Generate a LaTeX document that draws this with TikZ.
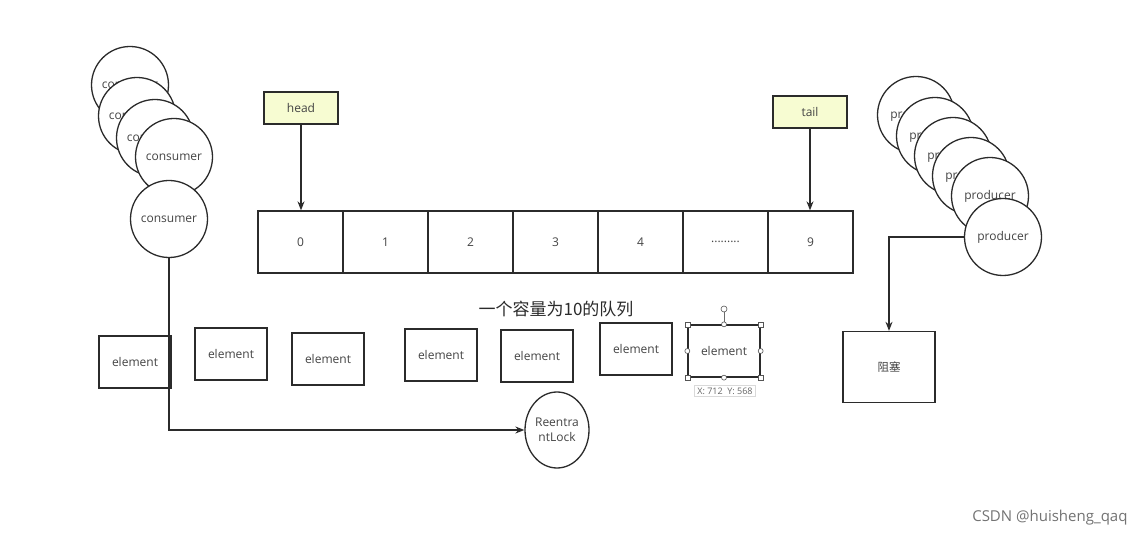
\documentclass[tikz,border=0pt]{standalone}
\usepackage{fontspec}
\setmainfont{Open Sans}
\newfontfamily\cjk{Noto Sans CJK SC}
\usetikzlibrary{arrows.meta,shapes.geometric}
\definecolor{ln}{HTML}{2B2B2B}
\definecolor{tx}{HTML}{444444}
\definecolor{note}{HTML}{F7FCD2}
\tikzset{
  base/.style={draw=ln, line width=1.3pt, text=tx, inner sep=0pt},
  circ/.style={base, circle, fill=white, minimum size=77pt, font=\fontsize{12}{13}\selectfont},
  cell/.style={base, rectangle, minimum width=85pt, minimum height=62pt, font=\fontsize{12}{13}\selectfont},
  elem/.style={base, rectangle, fill=white, minimum width=72pt, minimum height=52pt, font=\fontsize{12}{13}\selectfont},
  tag/.style={base, rectangle, fill=note, minimum width=74pt, minimum height=32pt, font=\fontsize{12}{13}\selectfont},
  arr/.style={draw=ln, line width=1.3pt, -{Stealth[length=9pt,width=7pt]}},
  hsq/.style={draw=ln!80, fill=white, line width=0.6pt, rectangle, minimum size=5pt, inner sep=0pt},
  hci/.style={draw=ln!80, fill=white, line width=0.6pt, circle, minimum size=5pt, inner sep=0pt},
}
\begin{document}
\begin{tikzpicture}[x=1pt,y=-1pt]
\useasboundingbox (0,0) rectangle (1144,537);
\fill[white] (0,0) rectangle (1144,537);

% consumers
\node[circ] (c1) at (130,85) {consumer};
\node[circ] (c2) at (137,116) {consumer};
\node[circ] (c3) at (155,138) {consumer};
\node[circ] (c4) at (174,157) {consumer};
\node[circ] (c5) at (169,219) {consumer};

% producers
\node[circ] (p1) at (916,115) {producer};
\node[circ] (p2) at (935,136) {producer};
\node[circ] (p3) at (953,156) {producer};
\node[circ] (p4) at (971,176) {producer};
\node[circ] (p5) at (990,196) {producer};
\node[circ] (p6) at (1003,237) {producer};

% queue
\foreach \i/\t in {0/0,1/1,2/2,3/3,4/4,5/{.........},6/9} {
  \node[cell] (q\i) at ({300.5+85*\i},242) {\t};
}

% head / tail
\node[tag] (head) at (301,108) {head};
\node[tag] (tail) at (810,112) {tail};
\draw[arr] (head.south) -- (head.south |- q0.north);
\draw[arr] (tail.south) -- (tail.south |- q6.north);

% title
\node[text=ln, font=\cjk\fontsize{17}{19}\selectfont] (title) at (556,309) {一个容量为10的队列};

% elements
\node[elem] (e1) at (135,362) {element};
\node[elem] (e2) at (231,354) {element};
\node[elem] (e3) at (328,359) {element};
\node[elem] (e4) at (441,355) {element};
\node[elem] (e5) at (537,356) {element};
\node[elem] (e6) at (636,349) {element};
\node[elem] (e7) at (724,351) {element};

% selection handles on e7
\coordinate (rot) at (724,309);
\draw[draw=ln!70, line width=0.6pt] (e7.north) -- (rot);
\node[hci, minimum size=6pt] (rh) at (rot) {};
\foreach \a in {north west,north east,south west,south east} \node[hsq] at (e7.\a) {};
\foreach \a in {north,south,east,west} \node[hci] at (e7.\a) {};
\node[draw=black!15, fill=white, line width=0.5pt, text=black!60, font=\fontsize{9}{10}\selectfont, inner xsep=3pt, inner ysep=2pt] (tip) at (725,391) {X: 712\ \ Y: 568};

% blocking box
\node[base, rectangle, minimum width=92pt, minimum height=71pt, font=\cjk\fontsize{11.5}{13}\selectfont] (block) at (889,367) {阻塞};

% lock
\node[base, ellipse, minimum width=64pt, minimum height=76pt, align=center, font=\fontsize{12}{15}\selectfont] (lock) at (557,430) {Reentra\\ntLock};

% connectors
\draw[arr] (c5.south) |- (lock.west);
\draw[arr] (p6.west) -| (block.north);

% watermark
\node[text=black!55, font=\fontsize{15}{17}\selectfont, anchor=east] (wm) at (1131,518) {CSDN @huisheng\_qaq};
\end{tikzpicture}
\end{document}
